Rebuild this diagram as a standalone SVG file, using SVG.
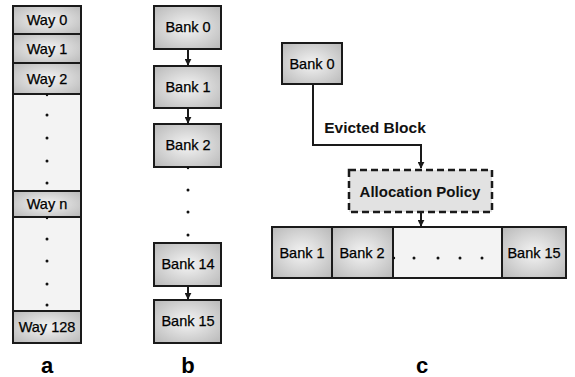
<svg xmlns="http://www.w3.org/2000/svg" width="575" height="377" viewBox="0 0 575 377">
<defs>
<radialGradient id="g" cx="50%" cy="50%" r="70%">
<stop offset="0" stop-color="#f4f4f4"/>
<stop offset="1" stop-color="#b8b8b8"/>
</radialGradient>
<marker id="ah" viewBox="0 0 10 10" refX="9" refY="5" markerWidth="7" markerHeight="7" markerUnits="userSpaceOnUse" orient="auto">
<path d="M0,0 L10,5 L0,10 z" fill="#1a1a1a"/>
</marker>
<style>
.box{fill:url(#g);stroke:#1a1a1a;stroke-width:2}
.pale{fill:#f3f3f3;stroke:#1a1a1a;stroke-width:2}
.t{font-family:"Liberation Sans",Arial,sans-serif;font-size:14.5px;fill:#000;stroke:#000;stroke-width:0.25;text-anchor:middle}
.bt{font-family:"Liberation Sans",Arial,sans-serif;font-weight:bold;fill:#111;text-anchor:middle}
.lbl{font-family:"Liberation Sans",Arial,sans-serif;font-weight:bold;font-size:22px;fill:#000;text-anchor:middle}
.dot{fill:#111}
.ln{stroke:#1a1a1a;stroke-width:2;fill:none}
</style>
</defs>
<rect width="575" height="377" fill="#fff"/>

<!-- Column a -->
<g id="colA">
<rect class="pale" x="13" y="94" width="68" height="97"/>
<rect class="pale" x="13" y="217" width="68" height="94"/>
<g id="way0"><rect class="box" x="13" y="6" width="68" height="28"/><text class="t" x="47" y="25">Way 0</text></g>
<g id="way1"><rect class="box" x="13" y="34" width="68" height="29"/><text class="t" x="47" y="54">Way 1</text></g>
<g id="way2"><rect class="box" x="13" y="63" width="68" height="31"/><text class="t" x="47" y="84">Way 2</text></g>
<g id="wayn"><rect class="box" x="13" y="191" width="68" height="26"/><text class="t" x="47" y="209">Way n</text></g>
<g id="way128"><rect class="box" x="13" y="311" width="68" height="32"/><text class="t" x="47" y="332">Way 128</text></g>
<g class="dot">
<circle cx="47" cy="95" r="1.2"/><circle cx="47" cy="115" r="1.5"/><circle cx="47" cy="138" r="1.5"/><circle cx="47" cy="161" r="1.5"/><circle cx="47" cy="183" r="1.5"/>
<circle cx="47" cy="218" r="1.2"/><circle cx="47" cy="239" r="1.5"/><circle cx="47" cy="261" r="1.5"/><circle cx="47" cy="284" r="1.5"/><circle cx="47" cy="305" r="1.5"/>
</g>
<text class="lbl" x="47" y="373">a</text>
</g>

<!-- Column b -->
<g id="connectorsB">
<line class="ln" x1="188" y1="49" x2="188" y2="65" marker-end="url(#ah)"/>
<line class="ln" x1="188" y1="108" x2="188" y2="123" marker-end="url(#ah)"/>
<line class="ln" x1="188" y1="286" x2="188" y2="299" marker-end="url(#ah)"/>
</g>
<g id="bank0b"><rect class="box" x="154" y="6" width="67" height="43"/><text class="t" x="188" y="32">Bank 0</text></g>
<g id="bank1b"><rect class="box" x="154" y="66" width="67" height="42"/><text class="t" x="188" y="92">Bank 1</text></g>
<g id="bank2b"><rect class="box" x="154" y="124" width="67" height="43"/><text class="t" x="188" y="150">Bank 2</text></g>
<g id="bank14b"><rect class="box" x="154" y="243" width="67" height="43"/><text class="t" x="188" y="269">Bank 14</text></g>
<g id="bank15b"><rect class="box" x="154" y="300" width="67" height="43"/><text class="t" x="188" y="326">Bank 15</text></g>
<g class="dot"><circle cx="188" cy="168" r="1.2"/><circle cx="188" cy="190" r="1.5"/><circle cx="188" cy="212" r="1.5"/><circle cx="188" cy="235" r="1.5"/></g>
<text class="lbl" x="188" y="373">b</text>

<!-- Column c -->
<g id="connectorsC">
<polyline class="ln" points="313,84 313,145 421,145 421,168" marker-end="url(#ah)"/>
<line class="ln" x1="421" y1="212" x2="421" y2="226" marker-end="url(#ah)"/>
</g>
<text class="bt" x="375" y="133" font-size="15.5">Evicted Block</text>
<g id="bank0c"><rect class="box" x="282" y="43" width="60" height="41"/><text class="t" x="312" y="69">Bank 0</text></g>
<g id="policy"><rect x="349" y="170" width="143" height="42" fill="#e2e2e2" stroke="#1a1a1a" stroke-width="2.5" stroke-dasharray="7,4"/><text class="bt" x="420" y="197" font-size="15">Allocation Policy</text></g>
<g id="row">
<rect class="pale" x="272" y="227" width="294" height="51"/>
<g id="bank1c"><rect class="box" x="272" y="227" width="60" height="51"/><text class="t" x="302" y="258">Bank 1</text></g>
<g id="bank2c"><rect class="box" x="332" y="227" width="61" height="51"/><text class="t" x="362" y="258">Bank 2</text></g>
<g id="bank15c"><rect class="box" x="502" y="227" width="64" height="51"/><text class="t" x="534" y="258">Bank 15</text></g>
<g class="dot"><circle cx="394" cy="258" r="1.2"/><circle cx="414" cy="258" r="1.5"/><circle cx="438" cy="258" r="1.5"/><circle cx="460" cy="258" r="1.5"/><circle cx="482" cy="258" r="1.5"/></g>
</g>
<text class="lbl" x="422" y="373">c</text>
</svg>
